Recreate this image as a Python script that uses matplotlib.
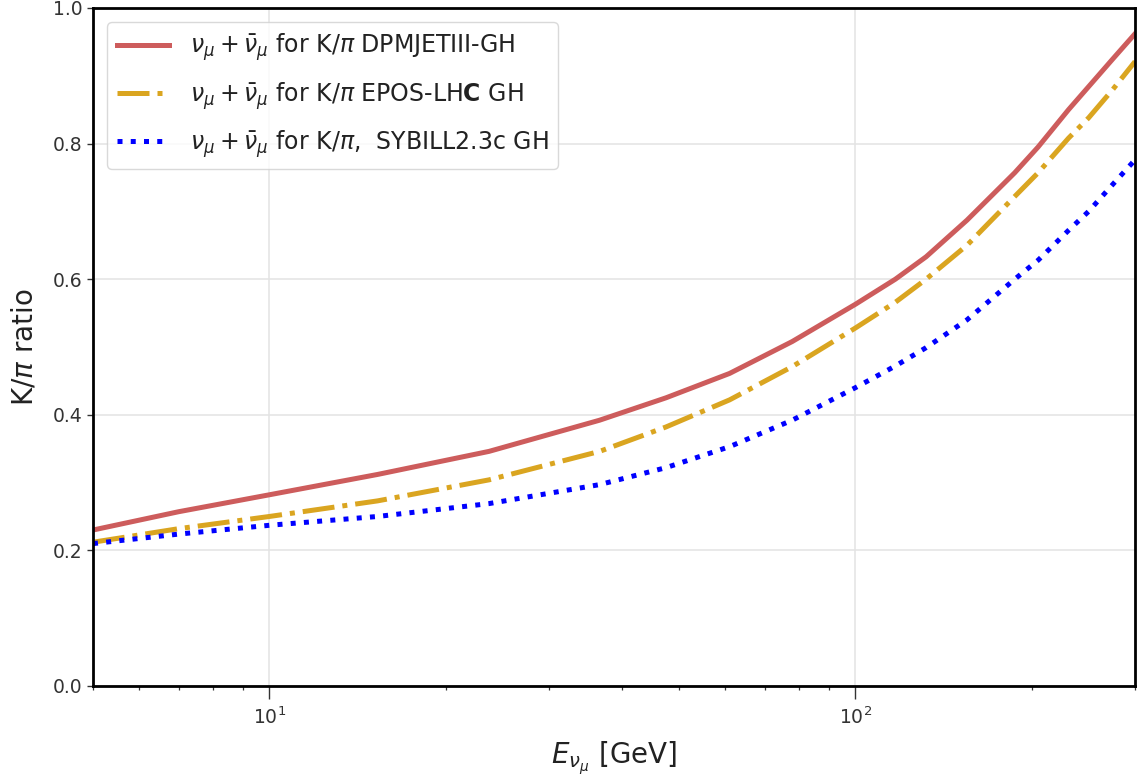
import matplotlib
matplotlib.use("Agg")
import matplotlib.pyplot as plt

# Neutrino energy grid [GeV]
energy = [5, 7, 10, 15.3, 23.7, 36.6, 47.5, 61, 78, 100, 117, 132, 155, 187,
          205, 231, 250, 275, 300]

# K/pi ratio for each hadronic interaction model
kpi_dpmjet = [0.230, 0.257, 0.282, 0.312, 0.346, 0.392, 0.425, 0.461, 0.508,
              0.563, 0.600, 0.633, 0.687, 0.757, 0.795, 0.850, 0.884, 0.925, 0.962]
kpi_epos = [0.212, 0.232, 0.250, 0.273, 0.304, 0.346, 0.382, 0.422, 0.471,
            0.528, 0.566, 0.600, 0.650, 0.722, 0.757, 0.808, 0.838, 0.880, 0.921]
kpi_sibyll = [0.210, 0.224, 0.237, 0.250, 0.269, 0.297, 0.322, 0.353, 0.392,
              0.440, 0.472, 0.499, 0.540, 0.600, 0.628, 0.672, 0.700, 0.740, 0.776]

labels = [
    r"$\nu_\mu + \bar{\nu}_\mu$ for K/$\pi$ DPMJETIII-GH",
    r"$\nu_\mu + \bar{\nu}_\mu$ for K/$\pi$ EPOS-LH$\mathbf{C}$ GH",
    r"$\nu_\mu + \bar{\nu}_\mu$ for K/$\pi$,  SYBILL2.3c GH",
]

plt.rcParams["font.family"] = ["DejaVu Sans"]
plt.rcParams["mathtext.fontset"] = "dejavusans"

fig = plt.figure(figsize=(11.38, 7.82), dpi=100)
ax = fig.add_axes([0.0817, 0.1228, 0.9157, 0.867])

ax.plot(energy, kpi_dpmjet, color="#cd5c5c", lw=3.6, ls="-", label=labels[0])
ax.plot(energy, kpi_epos, color="#daa520", lw=3.6, ls="-.", label=labels[1])
ax.plot(energy, kpi_sibyll, color="#0000ff", lw=3.6, ls=":", label=labels[2])

ax.set_xscale("log")
ax.set_xlim(5, 300)
ax.set_ylim(0, 1.0)
ax.set_yticks([0.0, 0.2, 0.4, 0.6, 0.8, 1.0])

ax.grid(True, which="major", color="#e3e3e3", lw=1.1)
ax.set_axisbelow(True)

for sp in ax.spines.values():
    sp.set_linewidth(2.0)
    sp.set_color("black")

ax.tick_params(axis="x", which="major", length=9, width=1.0, labelsize=13.5,
               colors="#333333", pad=6)
ax.tick_params(axis="x", which="minor", length=3, width=0.9, colors="#333333")
ax.tick_params(axis="y", which="major", length=4, width=1.0, labelsize=13.5,
               colors="#333333")
for sp in ax.spines.values():
    sp.set_color("black")

ax.set_xlabel(r"$E_{\nu_\mu}$ [GeV]", fontsize=20, color="#222222", labelpad=8)
ax.set_ylabel(r"K/$\pi$ ratio", fontsize=20, color="#222222", labelpad=10)

leg = ax.legend(loc="upper left", fontsize=17, handlelength=2.2,
                frameon=True, fancybox=True, framealpha=0.8,
                edgecolor="#d0d0d0", borderaxespad=0.6, labelspacing=0.7,
                handletextpad=0.9)
for t in leg.get_texts():
    t.set_color("#222222")

fig.savefig("out.png", dpi=100)
